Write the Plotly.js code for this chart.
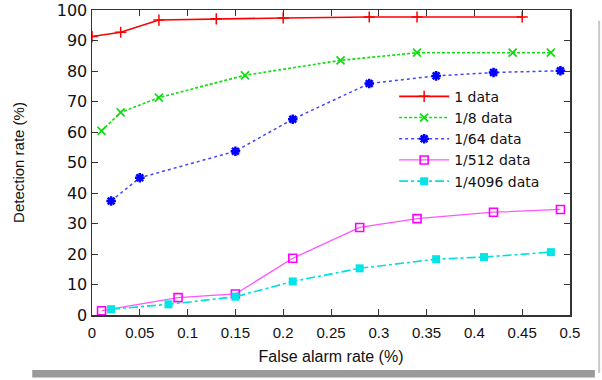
<!DOCTYPE html>
<html>
<head>
<meta charset="utf-8">
<script src="https://cdn.plot.ly/plotly-3.0.1.min.js"></script>
<style>html,body{margin:0;padding:0;background:#fff;}#chart{width:602px;height:380px;}</style>
</head>
<body>
<div id="chart"></div>
<script>
// Data
var seriesNames = ["1 data", "1/8 data", "1/64 data", "1/512 data", "1/4096 data"];

var x_1 = [0.0, 0.03, 0.07, 0.13, 0.20, 0.29, 0.34, 0.45];
var y_1 = [91.3, 92.7, 96.7, 97.1, 97.4, 97.7, 97.7, 97.7];

var x_8 = [0.01, 0.03, 0.07, 0.16, 0.26, 0.34, 0.44, 0.48];
var y_8 = [60.4, 66.4, 71.3, 78.6, 83.5, 86.0, 86.0, 86.0];

var x_64 = [0.02, 0.05, 0.15, 0.21, 0.29, 0.36, 0.42, 0.49];
var y_64 = [37.4, 45.0, 53.7, 64.2, 75.9, 78.4, 79.5, 80.1];

var x_512 = [0.01, 0.09, 0.15, 0.21, 0.28, 0.34, 0.42, 0.49];
var y_512 = [1.4, 5.7, 6.9, 18.6, 28.7, 31.6, 33.7, 34.6];

var x_4096 = [0.02, 0.08, 0.15, 0.21, 0.28, 0.36, 0.41, 0.48];
var y_4096 = [1.9, 3.5, 6.0, 11.0, 15.3, 18.3, 19.0, 20.6];

var xTickVals = [0, 0.05, 0.1, 0.15, 0.2, 0.25, 0.3, 0.35, 0.4, 0.45, 0.5];
var xTickText = ["0", "0.05", "0.1", "0.15", "0.2", "0.25", "0.3", "0.35", "0.4", "0.45", "0.5"];
var yTickVals = [0, 10, 20, 30, 40, 50, 60, 70, 80, 90, 100];

var traces = [
  {x: x_1, y: y_1, name: seriesNames[0], mode: "lines+markers",
   line: {color: "#ff0000", width: 1.6, dash: "solid"},
   marker: {symbol: "cross-thin-open", size: 8, color: "#ff0000", line: {color: "#ff0000", width: 1.5}}},
  {x: x_8, y: y_8, name: seriesNames[1], mode: "lines+markers",
   line: {color: "#11dd11", width: 1.6, dash: "3px,2px"},
   marker: {symbol: "x-thin-open", size: 8, color: "#11dd11", line: {color: "#11dd11", width: 1.8}}},
  {x: x_64, y: y_64, name: seriesNames[2], mode: "lines+markers",
   line: {color: "#4444ff", width: 1.5, dash: "dot"},
   marker: {symbol: "asterisk-open", size: 8, color: "#0000ff", line: {color: "#0000ee", width: 2.5}}},
  {x: x_512, y: y_512, name: seriesNames[3], mode: "lines+markers",
   line: {color: "#ff55ff", width: 1.3, dash: "solid"},
   marker: {symbol: "square-open", size: 8, color: "#ff00ff", line: {color: "#ff00ff", width: 1.6}}},
  {x: x_4096, y: y_4096, name: seriesNames[4], mode: "lines+markers",
   line: {color: "#00e0e0", width: 1.6, dash: "dashdot"},
   marker: {symbol: "square", size: 8, color: "#00e5e5", line: {width: 0}}}
];

var axisFont = {family: "Liberation Sans, Arial, sans-serif", size: 15, color: "#111"};

var layout = {
  width: 602, height: 380,
  margin: {l: 92, r: 32, t: 10, b: 65},
  paper_bgcolor: "#ffffff",
  plot_bgcolor: "#ffffff",
  showlegend: true,
  legend: {
    x: 0.948, xanchor: "right", y: 0.768, yanchor: "top",
    bgcolor: "rgba(0,0,0,0)", borderwidth: 0,
    font: {family: "DejaVu Sans, sans-serif", size: 14, color: "#111"},
    tracegroupgap: 0, itemwidth: 50
  },
  xaxis: {
    range: [0, 0.5], tickmode: "array", tickvals: xTickVals, ticktext: xTickText,
    ticks: "inside", ticklen: 6, tickwidth: 1, tickcolor: "#333",
    showline: true, linecolor: "#333", linewidth: 1.5, mirror: "ticks",
    showgrid: false, zeroline: false,
    tickfont: axisFont, ticklabelstandoff: 3,
    title: {text: "False alarm rate (%)", font: {family: "Liberation Sans, Arial, sans-serif", size: 16, color: "#111"}, standoff: 11}
  },
  yaxis: {
    range: [0, 100], tickmode: "array", tickvals: yTickVals,
    ticks: "inside", ticklen: 6, tickwidth: 1, tickcolor: "#333",
    showline: true, linecolor: "#333", linewidth: 1.5, mirror: "ticks",
    showgrid: false, zeroline: false,
    tickfont: {family: "DejaVu Sans, sans-serif", size: 16, color: "#111"},
    title: {text: "Detection rate (%)", font: {family: "Liberation Sans, Arial, sans-serif", size: 15, color: "#111"}, standoff: 28}
  },
  shapes: [
    {type: "rect", xref: "paper", yref: "paper", x0: -0.125, x1: 1.052, y0: -0.18, y1: -0.205,
     fillcolor: "#9a9a9a", line: {width: 0}, layer: "below"},
    {type: "line", xref: "paper", yref: "paper", x0: 1.061, x1: 1.061, y0: 0.965, y1: -0.19,
     line: {color: "#c8c8c8", width: 2}}
  ]
};

Plotly.newPlot("chart", traces, layout, {displayModeBar: false, staticPlot: true});
</script>
</body>
</html>
